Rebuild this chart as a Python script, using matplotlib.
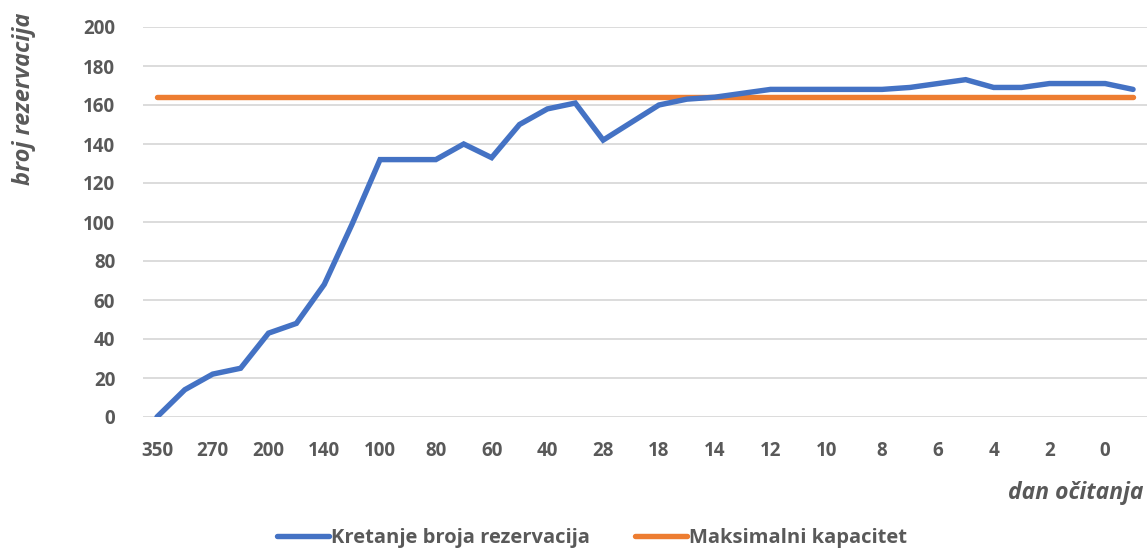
import matplotlib.pyplot as plt
import numpy as np
from matplotlib.lines import Line2D

# shown day labels (every other category is labelled)
day_labels = ["350", "270", "200", "140", "100", "80", "60", "40", "28",
              "18", "14", "12", "10", "8", "6", "4", "2", "0"]

reservations = [0, 14, 22, 25, 43, 48, 68, 99, 132, 132,
                132, 140, 133, 150, 158, 161, 142, 151, 160, 163,
                164, 166, 168, 168, 168, 168, 168, 169, 171, 173,
                169, 169, 171, 171, 171, 168]
capacity = [164] * len(reservations)

grey = "#595959"
plt.rcParams['font.family'] = ['Open Sans', 'DejaVu Sans']

fig = plt.figure(figsize=(11.47, 5.51), dpi=100)
ax = fig.add_axes([143 / 1147, 134 / 551, 1004 / 1147, 390 / 551])

x = np.arange(len(reservations))
ax.plot(x, reservations, color="#4472C4", lw=3.9, solid_joinstyle="miter",
        solid_capstyle="round", zorder=3)
ax.plot(x, capacity, color="#ED7D31", lw=3.9, solid_capstyle="round", zorder=2)

ax.set_xlim(-0.5, len(reservations) - 0.5)
ax.set_ylim(0, 200)
ax.set_yticks(np.arange(0, 201, 20))
ax.set_xticks(x[::2])
ax.set_xticklabels(day_labels)
ax.grid(axis="y", color="#D9D9D9", lw=1.3)
ax.set_axisbelow(True)
for s in ax.spines.values():
    s.set_visible(False)
ax.tick_params(length=0, labelsize=13.5, labelcolor=grey, pad=17)
ax.tick_params(axis="y", pad=20)
for lbl in ax.get_xticklabels() + ax.get_yticklabels():
    lbl.set_fontweight("bold")

fig.text(24 / 1147, 1 - 99 / 551, "broj rezervacija", rotation=90, ha="center",
         va="center", fontsize=17, fontstyle="italic", fontweight="bold", color=grey)
fig.text(1143 / 1147, 1 - 493 / 551, "dan očitanja", ha="right", va="center",
         fontsize=16.5, fontstyle="italic", fontweight="bold", color=grey)

handles = [Line2D([], [], color="#4472C4", lw=3.9, solid_capstyle="round"),
           Line2D([], [], color="#ED7D31", lw=3.9, solid_capstyle="round")]
fig.legend(handles, ["Kretanje broja rezervacija", "Maksimalni kapacitet"],
           loc="center", bbox_to_anchor=(592 / 1147, 1 - 538 / 551), ncol=2,
           frameon=False, handlelength=2.6, handletextpad=0.1, columnspacing=2.2,
           prop={"size": 14.5, "weight": "bold"}, labelcolor=grey)

fig.savefig("out.png", dpi=100)
